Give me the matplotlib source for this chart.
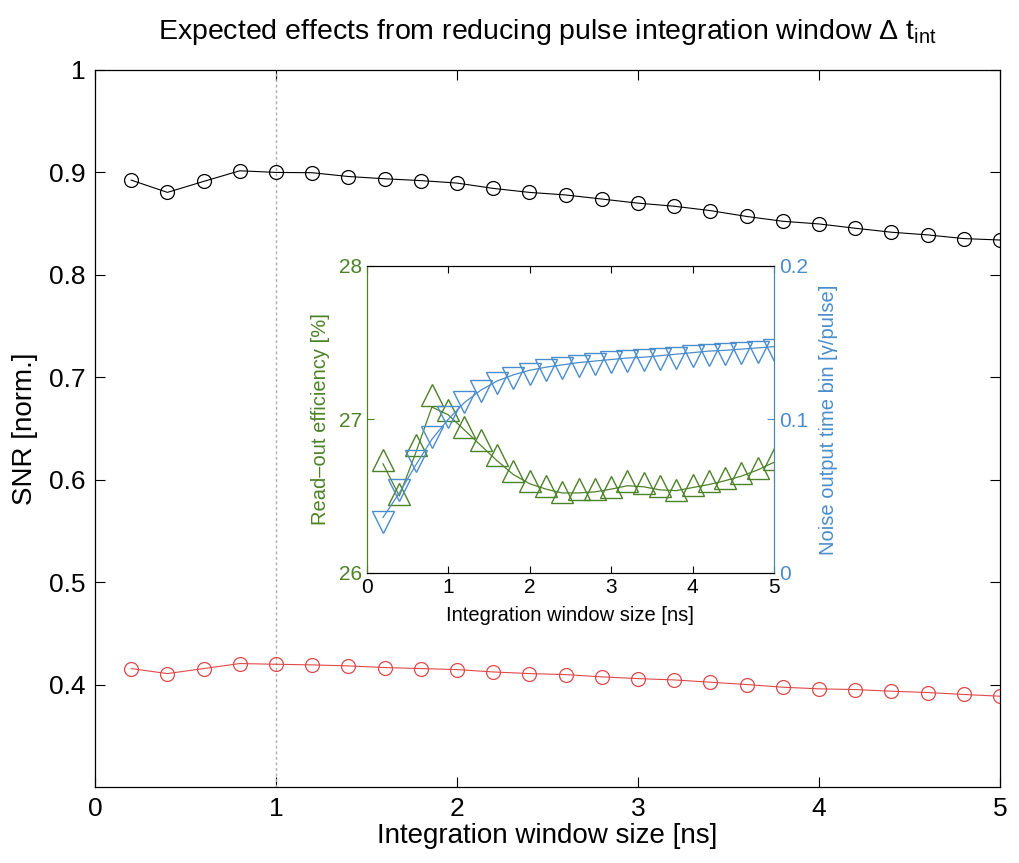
import matplotlib
matplotlib.use("Agg")
from matplotlib import pyplot as plt

plt.rcParams['font.family'] = ['Liberation Sans', 'DejaVu Sans']
plt.rcParams['mathtext.fontset'] = 'custom'
plt.rcParams['mathtext.rm'] = 'Liberation Sans'
plt.rcParams['mathtext.it'] = 'Liberation Sans'

# main plot data
x = [0.2, 0.4, 0.6, 0.8, 1.0, 1.2, 1.4, 1.6, 1.8, 2.0, 2.2, 2.4, 2.6,
     2.8, 3.0, 3.2, 3.4, 3.6, 3.8, 4.0, 4.2, 4.4, 4.6, 4.8, 5.0]
snr_black = [0.8925, 0.8805, 0.8912, 0.9016, 0.9000, 0.8997, 0.8960, 0.8938,
             0.8920, 0.8896, 0.8844, 0.8805, 0.8780, 0.8740, 0.8700, 0.8670,
             0.8627, 0.8570, 0.8523, 0.8497, 0.8455, 0.8416, 0.8390, 0.8354,
             0.8340]
snr_red = [0.4156, 0.4107, 0.4156, 0.4205, 0.4198, 0.4192, 0.4182, 0.4166,
           0.4156, 0.4146, 0.4123, 0.4107, 0.4097, 0.4075, 0.4058, 0.4045,
           0.4023, 0.4000, 0.3974, 0.3958, 0.3951, 0.3935, 0.3922, 0.3903,
           0.3886]

# inset data
eff_marks = [26.735, 26.51, 26.83, 27.16, 27.06, 26.95, 26.866, 26.768, 26.66,
             26.60, 26.568, 26.525, 26.546, 26.546, 26.557, 26.596, 26.583,
             26.568, 26.54, 26.574, 26.596, 26.618, 26.65, 26.683, 26.742]
eff_line = [26.71, 26.50, 26.78, 27.08, 27.03, 26.93, 26.83, 26.73, 26.64,
            26.58, 26.545, 26.52, 26.52, 26.527, 26.545, 26.567, 26.56, 26.54,
            26.535, 26.555, 26.575, 26.60, 26.63, 26.67, 26.72]
noise_marks = [0.0329, 0.0541, 0.0731, 0.0887, 0.1014, 0.1111, 0.1188, 0.1237,
               0.1270, 0.1297, 0.1324, 0.1335, 0.1346, 0.1359, 0.1372, 0.1380,
               0.1389, 0.1395, 0.1402, 0.1412, 0.1420, 0.1429, 0.1435, 0.1442,
               0.1455]
noise_line = [0.036, 0.052, 0.070, 0.087, 0.100, 0.111, 0.119, 0.125, 0.129,
              0.132, 0.134, 0.1355, 0.137, 0.138, 0.139, 0.140, 0.1405, 0.1415,
              0.1425, 0.1435, 0.1445, 0.145, 0.1458, 0.1466, 0.1474]

green = '#4c8228'
blue = '#4a8ccc'
red = '#e04848'

fig = plt.figure(figsize=(10.19, 8.63), dpi=100)
ax = fig.add_axes([0.0932, 0.0881, 0.8882, 0.8308])

ax.axvline(1, color='#aaaaaa', lw=1, ls=(0, (2, 2)))
ax.plot(x, snr_black, '-o', color='black', lw=0.8, ms=10, mfc='none', mew=0.9)
ax.plot(x, snr_red, '-o', color=red, lw=0.8, ms=10, mfc='none', mew=0.9)
ax.set_xlim(0, 5)
ax.set_ylim(0.3, 1.0)
ax.set_xticks([0, 1, 2, 3, 4, 5])
ax.set_yticks([0.4, 0.5, 0.6, 0.7, 0.8, 0.9, 1.0])
ax.set_yticklabels(['0.4', '0.5', '0.6', '0.7', '0.8', '0.9', '1'])
ax.tick_params(direction='in', top=True, right=True, length=7, width=0.8,
               labelsize=19, pad=7)
for s in ax.spines.values():
    s.set_linewidth(0.9)
ax.set_xlabel('Integration window size [ns]', fontsize=20, labelpad=2)
ax.set_ylabel('SNR [norm.]', fontsize=20, labelpad=8)
ax.set_title(r'Expected effects from reducing pulse integration window $\Delta$ t$_{\rm int}$',
             fontsize=20.5, pad=22)

# inset with two y axes
ins = fig.add_axes([0.3599, 0.3364, 0.3997, 0.3554])
ins.plot(x, eff_line, '-', color=green, lw=0.9)
ins.plot(x, eff_marks, '^', color=green, ms=15.5, mfc='none', mew=1.0)
ins.set_xlim(0, 5)
ins.set_ylim(26, 28)
ins.set_xticks([0, 1, 2, 3, 4, 5])
ins.set_yticks([26, 27, 28])
ins.tick_params(axis='y', colors=green, direction='in', length=5, labelsize=15)
ins.tick_params(axis='x', direction='in', length=5, labelsize=15, top=True)
ins.set_ylabel('Read\u2013out efficiency [%]', color=green, fontsize=14.5, labelpad=6)
ins.set_xlabel('Integration window size [ns]', fontsize=14.5, labelpad=7)

ins2 = ins.twinx()
ins2.plot(x, noise_line, '-', color=blue, lw=0.9)
ins2.plot(x, noise_marks, 'v', color=blue, ms=15.5, mfc='none', mew=1.0)
ins2.set_ylim(0, 0.2)
ins2.set_yticks([0, 0.1, 0.2])
ins2.set_yticklabels(['0', '0.1', '0.2'])
ins2.tick_params(axis='y', colors=blue, direction='in', length=5, labelsize=15)
ins2.set_ylabel('Noise output time bin [\u03b3/pulse]', color=blue, fontsize=14.5,
                labelpad=8)
ins2.spines['left'].set_color(green)
ins2.spines['right'].set_color('#4a86a8')
ins.spines['left'].set_color(green)
ins.spines['right'].set_color('#4a86a8')

fig.savefig('out.png', dpi=100)
